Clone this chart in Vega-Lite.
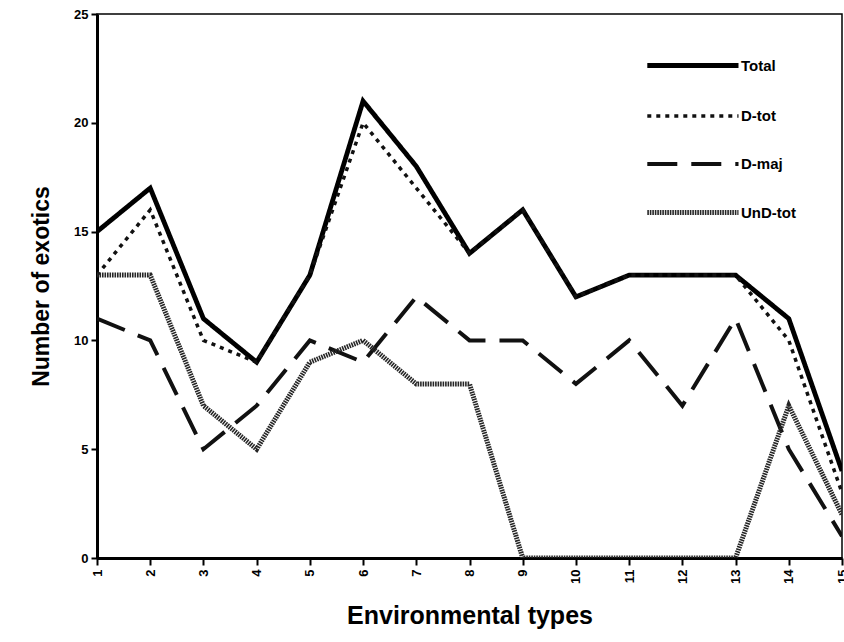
{
  "$schema": "https://vega.github.io/schema/vega-lite/v6.json",
  "autosize": {"type": "none"},
  "padding": {"left": 97, "top": 14, "right": 2, "bottom": 84},
  "width": 745,
  "height": 544,
  "background": "white",
  "config": {
    "font": "Liberation Sans",
    "view": {"stroke": "black", "strokeWidth": 1.5},
    "axis": {"domainColor": "black", "domainWidth": 3, "tickColor": "black", "tickWidth": 2, "grid": false, "labelColor": "black", "titleColor": "black", "labelFontWeight": "bold", "titleFontWeight": "bold"},
    "legend": {
      "title": null, "orient": "none", "legendX": 591, "legendY": 25,
      "symbolType": "M -2.8 0 L 1 0", "symbolSize": 2304, "rowPadding": 14,
      "labelFontSize": 15, "labelFontWeight": "bold", "labelColor": "black", "labelOffset": 0
    }
  },
  "data": {
    "values": [
      {"type": 1, "series": "Total", "value": 15},
      {"type": 2, "series": "Total", "value": 17},
      {"type": 3, "series": "Total", "value": 11},
      {"type": 4, "series": "Total", "value": 9},
      {"type": 5, "series": "Total", "value": 13},
      {"type": 6, "series": "Total", "value": 21},
      {"type": 7, "series": "Total", "value": 18},
      {"type": 8, "series": "Total", "value": 14},
      {"type": 9, "series": "Total", "value": 16},
      {"type": 10, "series": "Total", "value": 12},
      {"type": 11, "series": "Total", "value": 13},
      {"type": 12, "series": "Total", "value": 13},
      {"type": 13, "series": "Total", "value": 13},
      {"type": 14, "series": "Total", "value": 11},
      {"type": 15, "series": "Total", "value": 4},
      {"type": 1, "series": "D-tot", "value": 13},
      {"type": 2, "series": "D-tot", "value": 16},
      {"type": 3, "series": "D-tot", "value": 10},
      {"type": 4, "series": "D-tot", "value": 9},
      {"type": 5, "series": "D-tot", "value": 13},
      {"type": 6, "series": "D-tot", "value": 20},
      {"type": 7, "series": "D-tot", "value": 17},
      {"type": 8, "series": "D-tot", "value": 14},
      {"type": 9, "series": "D-tot", "value": 16},
      {"type": 10, "series": "D-tot", "value": 12},
      {"type": 11, "series": "D-tot", "value": 13},
      {"type": 12, "series": "D-tot", "value": 13},
      {"type": 13, "series": "D-tot", "value": 13},
      {"type": 14, "series": "D-tot", "value": 10},
      {"type": 15, "series": "D-tot", "value": 3},
      {"type": 1, "series": "D-maj", "value": 11},
      {"type": 2, "series": "D-maj", "value": 10},
      {"type": 3, "series": "D-maj", "value": 5},
      {"type": 4, "series": "D-maj", "value": 7},
      {"type": 5, "series": "D-maj", "value": 10},
      {"type": 6, "series": "D-maj", "value": 9},
      {"type": 7, "series": "D-maj", "value": 12},
      {"type": 8, "series": "D-maj", "value": 10},
      {"type": 9, "series": "D-maj", "value": 10},
      {"type": 10, "series": "D-maj", "value": 8},
      {"type": 11, "series": "D-maj", "value": 10},
      {"type": 12, "series": "D-maj", "value": 7},
      {"type": 13, "series": "D-maj", "value": 11},
      {"type": 14, "series": "D-maj", "value": 5},
      {"type": 15, "series": "D-maj", "value": 1},
      {"type": 1, "series": "UnD-tot", "value": 13},
      {"type": 2, "series": "UnD-tot", "value": 13},
      {"type": 3, "series": "UnD-tot", "value": 7},
      {"type": 4, "series": "UnD-tot", "value": 5},
      {"type": 5, "series": "UnD-tot", "value": 9},
      {"type": 6, "series": "UnD-tot", "value": 10},
      {"type": 7, "series": "UnD-tot", "value": 8},
      {"type": 8, "series": "UnD-tot", "value": 8},
      {"type": 9, "series": "UnD-tot", "value": 0},
      {"type": 10, "series": "UnD-tot", "value": 0},
      {"type": 11, "series": "UnD-tot", "value": 0},
      {"type": 12, "series": "UnD-tot", "value": 0},
      {"type": 13, "series": "UnD-tot", "value": 0},
      {"type": 14, "series": "UnD-tot", "value": 7},
      {"type": 15, "series": "UnD-tot", "value": 2}
    ]
  },
  "mark": {"type": "line", "clip": true},
  "encoding": {
    "x": {
      "field": "type", "type": "quantitative",
      "scale": {"domain": [1, 15], "nice": false, "zero": false},
      "axis": {"values": [1,2,3,4,5,6,7,8,9,10,11,12,13,14,15], "labelAngle": -90, "labelFontSize": 13, "labelPadding": 4, "tickSize": 7, "title": "Environmental types", "titleFontSize": 25, "titlePadding": 20, "labelFlush": false}
    },
    "y": {
      "field": "value", "type": "quantitative",
      "scale": {"domain": [0, 25], "nice": false},
      "axis": {"values": [0, 5, 10, 15, 20, 25], "labelFontSize": 13, "labelPadding": 3, "tickSize": 6, "title": "Number of exotics", "titleFontSize": 23, "titlePadding": 20, "labelFlush": false}
    },
    "color": {
      "field": "series", "type": "nominal",
      "scale": {"domain": ["Total", "D-tot", "D-maj", "UnD-tot"], "range": ["#000000", "#111111", "#111111", "#262626"]}
    },
    "strokeDash": {
      "field": "series", "type": "nominal",
      "scale": {"domain": ["Total", "D-tot", "D-maj", "UnD-tot"], "range": [[1, 0], [4, 5], [30, 14], [1.6, 0.9]]}
    },
    "strokeWidth": {
      "field": "series", "type": "nominal",
      "scale": {"type": "ordinal", "domain": ["Total", "D-tot", "D-maj", "UnD-tot"], "range": [4.8, 3.5, 4, 5]}
    }
  }
}
